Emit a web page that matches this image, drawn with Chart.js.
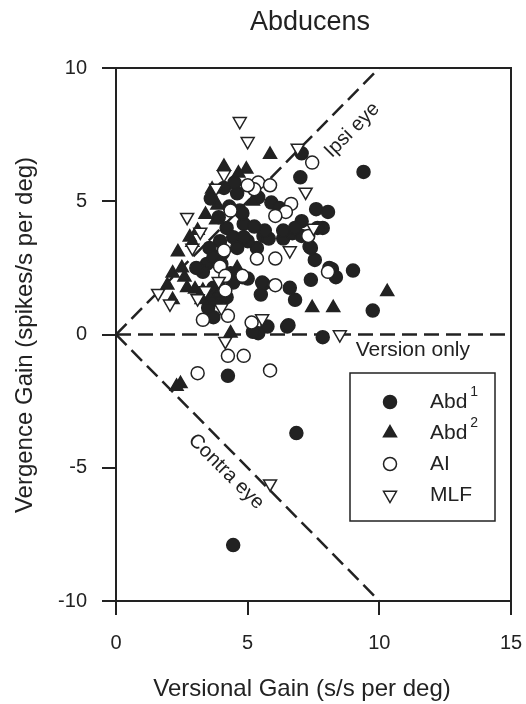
<!DOCTYPE html>
<html>
<head>
<meta charset="utf-8">
<script src="https://cdn.jsdelivr.net/npm/chart.js@4.4.1/dist/chart.umd.min.js"></script>
<style>
  body { margin: 0; background: #fff; }
  #wrap { width: 526px; height: 704px; }
</style>
</head>
<body>
<div id="wrap"><canvas id="chart" width="526" height="704"></canvas></div>
<script>
// values: [versional gain, vergence gain]
var abd1 = [
  [9.4,6.1],[7.0,5.9],[7.05,6.8],[7.6,4.7],[8.05,4.6],[7.05,4.25],[7.85,4.0],[7.35,3.3],
  [7.55,2.8],[8.2,2.45],[8.35,2.15],[9.0,2.4],[7.4,2.05],[9.75,0.9],[6.8,1.3],[6.6,1.75],
  [5.6,1.9],[5.5,1.5],[6.5,0.3],[5.75,0.3],[5.4,0.05],[7.85,-0.1],[4.25,-1.55],[6.85,-3.7],
  [4.45,-7.9],[5.6,3.7],[5.8,3.6],[6.35,3.6],[6.7,3.8],[7.05,3.7],[5.35,3.25],[5.0,3.5],
  [5.4,5.15],[5.9,4.95],[6.2,4.75],[4.7,4.65],[4.85,4.15],[5.65,3.9],[6.35,3.9],[6.8,4.0],
  [7.65,4.0],[5.25,4.05],[4.8,2.15],[5.0,2.1],[5.55,1.95],[7.4,3.25],[6.55,0.35],
  [3.6,5.1],[4.1,5.5],[4.6,5.3],[4.8,4.55],[4.2,4.0],[4.45,3.65],[3.95,3.5],[4.85,3.65],
  [3.55,3.25],[4.05,3.05],[4.6,3.25],[3.45,2.65],[3.3,2.35],[4.35,2.3],[4.45,1.95],
  [3.5,1.0],[3.7,0.65],[3.85,1.3],[3.9,4.4],[4.3,4.8],[3.7,2.9],[4.0,2.65],[3.05,2.5],
  [4.2,1.4],[3.7,1.75],[4.5,5.7],[5.2,0.1],[8.1,2.5]
];
var abd2 = [
  [5.85,6.75],[4.95,6.2],[4.65,6.05],[2.35,3.1],[2.15,2.3],[1.95,1.85],[2.5,2.5],[2.8,3.65],
  [2.9,3.45],[2.7,1.75],[3.0,1.7],[3.3,1.65],[3.6,1.4],[3.25,1.3],[3.9,1.55],[4.05,1.75],
  [3.65,5.45],[3.85,4.85],[3.1,3.9],[3.8,4.3],[3.4,4.5],[7.45,1.0],[8.25,1.0],[10.3,1.6],
  [2.45,-1.85],[2.3,-1.95],[2.15,1.3],[4.35,0.05],[4.1,6.3],[5.2,5.0],[2.6,2.15],[4.6,2.5]
];
var ai = [
  [7.45,6.45],[5.4,5.7],[5.85,5.6],[5.25,5.45],[6.65,4.9],[6.45,4.6],[6.05,4.45],[4.35,4.65],
  [5.35,2.85],[6.05,2.85],[4.8,2.2],[3.95,2.55],[4.15,1.65],[6.05,1.85],[3.3,0.55],[4.25,0.7],
  [5.15,0.45],[8.05,2.35],[7.3,3.7],[4.25,-0.8],[4.85,-0.8],[3.1,-1.45],[5.85,-1.35],
  [4.15,2.2],[5.0,5.6],[4.1,3.15]
];
var mlf = [
  [4.7,8.0],[5.0,7.25],[6.9,7.0],[7.2,5.35],[4.1,6.0],[3.8,5.5],[2.7,4.4],[3.2,3.85],
  [2.9,3.25],[1.6,1.55],[2.05,1.15],[3.4,1.65],[3.1,1.35],[3.9,2.0],[4.0,1.0],[5.55,0.6],
  [6.6,3.15],[7.5,4.0],[8.5,0.0],[4.15,-0.25],[5.85,-5.6]
];
var ipsiLine = [[0,0],[10,10]];
var contraLine = [[0,0],[10,-10]];
var versionLine = [[0,0],[15,0]];
var xTicks = [0, 5, 10, 15];
var yTicks = [-10, -5, 0, 5, 10];

var INK = '#222';
var FONT = '"Liberation Sans", Arial, sans-serif';
Chart.defaults.font.family = FONT;
Chart.defaults.color = INK;

function pts(a) { return a.map(function (p) { return { x: p[0], y: p[1] }; }); }

var markers = [
  { label: 'Abd', sup: '1', data: abd1, pointStyle: 'circle', radius: 6.5, rotation: 0, fill: INK },
  { label: 'Abd', sup: '2', data: abd2, pointStyle: 'triangle', radius: 7.5, rotation: 0, fill: INK },
  { label: 'AI', sup: '', data: ai, pointStyle: 'circle', radius: 6.5, rotation: 0, fill: '#fff' },
  { label: 'MLF', sup: '', data: mlf, pointStyle: 'triangle', radius: 7.5, rotation: 180, fill: '#fff' }
];

var datasets = markers.map(function (m, i) {
  return {
    label: m.label + m.sup,
    data: pts(m.data),
    pointStyle: m.pointStyle,
    pointRadius: m.radius,
    pointRotation: m.rotation,
    pointBackgroundColor: m.fill,
    pointBorderColor: INK,
    pointBorderWidth: 1.5,
    showLine: false,
    order: 4 - i
  };
});
[ipsiLine, contraLine, versionLine].forEach(function (l) {
  datasets.push({
    data: pts(l),
    showLine: true,
    borderColor: INK,
    borderWidth: 2.5,
    borderDash: [15, 7],
    pointRadius: 0,
    order: 10
  });
});

function txt(ctx, s, x, y, size, align, rot) {
  ctx.save();
  ctx.translate(x, y);
  ctx.rotate(rot || 0);
  ctx.font = size + 'px ' + FONT;
  ctx.fillStyle = INK;
  ctx.textAlign = align || 'center';
  ctx.textBaseline = 'middle';
  ctx.fillText(s, 0, 0);
  ctx.restore();
}

var decor = {
  id: 'decor',
  afterDraw: function (chart) {
    var ctx = chart.ctx, a = chart.chartArea;
    var xs = chart.scales.x, ys = chart.scales.y;
    ctx.save();
    ctx.strokeStyle = INK;
    ctx.lineWidth = 2;
    ctx.beginPath();
    ctx.moveTo(a.left, a.top); ctx.lineTo(a.right, a.top); ctx.lineTo(a.right, a.bottom);
    ctx.stroke();
    ctx.restore();

    txt(ctx, 'Abducens', 310, 23, 27);
    txt(ctx, 'Versional Gain (s/s per deg)', 302, 689, 24);
    txt(ctx, 'Vergence Gain (spikes/s per deg)', 25, 335, 24, 'center', -Math.PI / 2);

    txt(ctx, 'Ipsi eye', xs.getPixelForValue(8.97), ys.getPixelForValue(7.67), 20, 'center', -Math.PI / 4);
    txt(ctx, 'Contra eye', xs.getPixelForValue(4.18), ys.getPixelForValue(-5.15), 20, 'center', Math.PI / 4);
    txt(ctx, 'Version only', xs.getPixelForValue(9.1), ys.getPixelForValue(-0.6), 21, 'left');

    // legend box
    ctx.save();
    ctx.strokeStyle = INK;
    ctx.lineWidth = 1.5;
    ctx.fillStyle = '#fff';
    ctx.fillRect(350, 373, 145, 148);
    ctx.strokeRect(350, 373, 145, 148);
    var rows = [402, 433, 464, 495];
    markers.forEach(function (m, i) {
      ctx.fillStyle = m.fill;
      ctx.strokeStyle = INK;
      ctx.lineWidth = 1.5;
      Chart.helpers.drawPoint(ctx, { pointStyle: m.pointStyle, radius: m.radius, rotation: m.rotation, borderWidth: 1.5 }, 390, rows[i]);
      txt(ctx, m.label, 430, rows[i], 21, 'left');
      if (m.sup) {
        ctx.font = '21px ' + FONT;
        var w = ctx.measureText(m.label).width;
        txt(ctx, m.sup, 430 + w + 3, rows[i] - 10, 14, 'left');
      }
    });
    ctx.restore();
  }
};

function axis(min, max, ticks, pad) {
  return {
    type: 'linear',
    min: min,
    max: max,
    afterBuildTicks: function (s) { s.ticks = ticks.map(function (v) { return { value: v }; }); },
    ticks: { font: { size: 20 }, color: INK, padding: pad },
    grid: { drawOnChartArea: false, tickLength: 14, lineWidth: 2, color: INK },
    border: { color: INK, width: 2 }
  };
}

var xAxis = axis(0, 15, xTicks, 16);
xAxis.afterFit = function (s) { s.height = 103; s.paddingRight = 0; };
var yAxis = axis(-10, 10, yTicks, 15);
yAxis.afterFit = function (s) { s.width = 116; };

new Chart(document.getElementById('chart').getContext('2d'), {
  type: 'scatter',
  data: { datasets: datasets },
  options: {
    responsive: false,
    animation: false,
    layout: { padding: { top: 68, right: 15, left: 0, bottom: 0 } },
    plugins: { legend: { display: false }, tooltip: { enabled: false }, title: { display: false } },
    scales: { x: xAxis, y: yAxis }
  },
  plugins: [decor]
});
</script>
</body>
</html>
